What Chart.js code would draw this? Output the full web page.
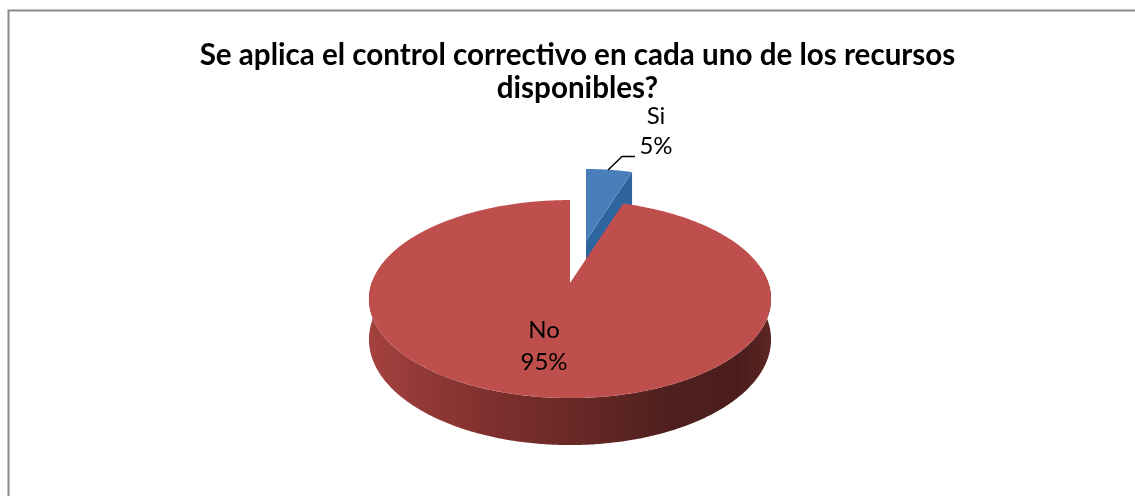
<!DOCTYPE html>
<html lang="es">
<head>
<meta charset="utf-8">
<title>Control correctivo</title>
<style>
  html, body { margin: 0; padding: 0; background: #ffffff; }
  #wrap { position: relative; width: 1135px; height: 496px; }
  canvas { display: block; }
</style>
<script src="https://cdn.jsdelivr.net/npm/chart.js@4/dist/chart.umd.min.js"></script>
</head>
<body>
<div id="wrap"><canvas id="pie" width="1135" height="496"></canvas></div>
<script>
const categories = ['Si', 'No'];
const values = [5, 95];
const percentLabels = ['5%', '95%'];
const titleLines = ['Se aplica el control correctivo en cada uno de los recursos', 'disponibles?'];

// Perspective view of a flat disc lying on a table, seen from the front.
const VIEW = { width: 198.4, height: 96.4, tilt: 0.162, depth: 39.4 };
// Per-slice placement: apex on the page and radius as a share of the full disc.
const SLICES = [
  { apexX: 586, apexY: 241, radius: 0.85, face: '#4a7ebb', wall: '#2f659f' },
  { apexX: 570, apexY: 283, radius: 1, face: '#be4f4c', wall: null }
];
const LABEL_SPOTS = [
  { x: 656, y: 116, line: 30 },
  { x: 544, y: 330, line: 32 }
];

function project(s, angle, r, lowered) {
  // Chart.js angles run clockwise from the +x axis; v grows toward the viewer.
  const u = Math.cos(angle) * r;
  const v = Math.sin(angle) * r;
  const f = 1 / (1 - VIEW.tilt * v);
  return {
    x: s.apexX + VIEW.width * u * f,
    y: s.apexY + (VIEW.height * v + (lowered ? VIEW.depth : 0)) * f
  };
}

function arcPoints(s, from, to, lowered) {
  const pts = [];
  const steps = Math.max(4, Math.ceil(Math.abs(to - from) / 0.01));
  for (let i = 0; i <= steps; i++) {
    pts.push(project(s, from + (to - from) * i / steps, s.radius, lowered));
  }
  return pts;
}

function tracePolygon(ctx, pts) {
  ctx.beginPath();
  pts.forEach((p, i) => i ? ctx.lineTo(p.x, p.y) : ctx.moveTo(p.x, p.y));
  ctx.closePath();
}

function rimGradient(ctx) {
  const g = ctx.createLinearGradient(368, 0, 770, 0);
  g.addColorStop(0, '#a5423f');
  g.addColorStop(0.12, '#943a38');
  g.addColorStop(0.3, '#7f302e');
  g.addColorStop(0.5, '#6a2927');
  g.addColorStop(0.75, '#4f201e');
  g.addColorStop(0.92, '#4a1d1c');
  g.addColorStop(1, '#5c2523');
  return g;
}

function drawSlice(ctx, s, arc) {
  const start = arc.startAngle;
  const end = arc.endAngle;
  const apex = project(s, 0, 0, false);
  if (s.wall) {
    // Cut face along the trailing edge of the small wedge.
    const apexLow = project(s, 0, 0, true);
    const edge = project(s, end, s.radius, false);
    const edgeLow = project(s, end, s.radius, true);
    ctx.fillStyle = s.wall;
    tracePolygon(ctx, [apex, edge, edgeLow, apexLow]);
    ctx.fill();
  } else {
    // Outer rim: only the part of the circle nearest the viewer shows.
    const nearEnd = Math.PI + 0.02;
    const top = arcPoints(s, -0.16, nearEnd, false);
    const low = arcPoints(s, -0.16, nearEnd, true).reverse();
    ctx.fillStyle = rimGradient(ctx);
    tracePolygon(ctx, top.concat(low));
    ctx.fill();
  }
  const outline = [apex].concat(arcPoints(s, start, end, false));
  ctx.fillStyle = s.face;
  tracePolygon(ctx, outline);
  ctx.fill();
}

const tiltedPie = {
  id: 'tiltedPie',
  beforeDraw(chart) {
    // Chart frame: only its top and left edges fall inside the view.
    const ctx = chart.ctx;
    ctx.save();
    ctx.strokeStyle = '#8a8a8a';
    ctx.lineWidth = 2;
    ctx.beginPath();
    ctx.moveTo(chart.width, 10.5);
    ctx.lineTo(8.5, 10.5);
    ctx.lineTo(8.5, chart.height);
    ctx.stroke();
    ctx.restore();
  },
  beforeDatasetDraw(chart, args) {
    const ctx = chart.ctx;
    const arcs = args.meta.data;
    ctx.save();
    SLICES.forEach((s, i) => drawSlice(ctx, s, arcs[i]));
    ctx.restore();
    return false;
  },
  afterDraw(chart) {
    const ctx = chart.ctx;
    ctx.save();
    // Leader line from the small wedge to its label.
    ctx.strokeStyle = '#000000';
    ctx.lineWidth = 1.4;
    ctx.beginPath();
    ctx.moveTo(608, 170);
    ctx.lineTo(622, 156.5);
    ctx.lineTo(635, 156.5);
    ctx.stroke();
    ctx.fillStyle = '#000000';
    ctx.font = '24px Lato, "Open Sans", sans-serif';
    ctx.textAlign = 'center';
    ctx.textBaseline = 'middle';
    categories.forEach((name, i) => {
      const spot = LABEL_SPOTS[i];
      ctx.fillText(name, spot.x, spot.y);
      ctx.fillText(percentLabels[i], spot.x, spot.y + spot.line);
    });
    ctx.restore();
  }
};

new Chart(document.getElementById('pie'), {
  type: 'pie',
  data: {
    labels: categories,
    datasets: [{ data: values, backgroundColor: SLICES.map(s => s.face), borderWidth: 0 }]
  },
  options: {
    responsive: false,
    animation: false,
    layout: { padding: { left: 20 } },
    plugins: {
      legend: { display: false },
      tooltip: { enabled: false },
      title: {
        display: true,
        text: titleLines,
        color: '#000000',
        font: { family: 'Lato, "Open Sans", sans-serif', size: 29.6, weight: 'bold', lineHeight: 1.115 },
        padding: { top: 39, bottom: 0 }
      }
    }
  },
  plugins: [tiltedPie]
});
</script>
</body>
</html>
